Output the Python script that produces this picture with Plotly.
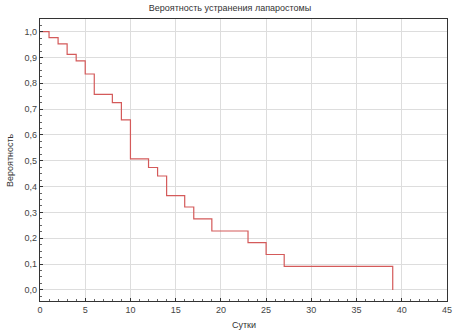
import plotly.graph_objects as go

# Kaplan-Meier estimate: day of event and survival probability after it
days = [0, 1, 2, 3, 4, 5, 6, 8, 9, 10, 12, 13, 14, 16, 17, 19, 23, 25, 27, 39]
survival = [1.0, 0.977, 0.953, 0.912, 0.887, 0.836, 0.757, 0.725, 0.658, 0.507,
            0.474, 0.441, 0.365, 0.321, 0.275, 0.228, 0.183, 0.137, 0.091, 0.0]
x_ticks = [0, 5, 10, 15, 20, 25, 30, 35, 40, 45]
y_ticks = [0.0, 0.1, 0.2, 0.3, 0.4, 0.5, 0.6, 0.7, 0.8, 0.9, 1.0]
y_tick_labels = [f"{v:.1f}".replace(".", ",") for v in y_ticks]

fig = go.Figure()
fig.add_trace(go.Scatter(
    x=days, y=survival, mode="lines", line=dict(shape="hv", color="#d45a5a", width=1.2),
    showlegend=False, hoverinfo="skip"))

font = dict(family="Liberation Sans, Arial, sans-serif", size=9, color="#444444")
fig.update_layout(
    width=460, height=335,
    margin=dict(l=40, r=13, t=19, b=34, autoexpand=False),
    paper_bgcolor="white", plot_bgcolor="white",
    font=font,
    title=dict(text="Вероятность устранения лапаростомы", x=0.5, xanchor="center",
               y=0.985, yanchor="top", font=dict(size=9, color="#333333")),
    xaxis=dict(range=[0, 45], tickvals=x_ticks, ticktext=[str(v) for v in x_ticks],
               automargin=False,
               showgrid=True, gridcolor="#dddddd", gridwidth=1, zeroline=False,
               showline=True, linecolor="#333333", linewidth=1.2, mirror=True,
               ticks="inside", ticklen=3, tickcolor="#333333",
               minor=dict(dtick=1, ticks="inside", ticklen=2, tickcolor="#666666", showgrid=False)),
    yaxis=dict(range=[-0.043, 1.049], tickvals=y_ticks, ticktext=y_tick_labels,
               automargin=False,
               showgrid=True, gridcolor="#dddddd", gridwidth=1, zeroline=False,
               showline=True, linecolor="#333333", linewidth=1.2, mirror=True,
               ticks="inside", ticklen=3, tickcolor="#333333",
               minor=dict(dtick=0.025, ticks="inside", ticklen=2, tickcolor="#666666", showgrid=False)),
    annotations=[
        dict(text="Сутки", xref="paper", yref="paper", x=0.5, y=0, yshift=-24,
             xanchor="center", yanchor="middle", showarrow=False,
             font=dict(size=9, color="#333333")),
        dict(text="Вероятность", xref="paper", yref="paper", x=0, y=0.5, xshift=-30,
             xanchor="center", yanchor="middle", textangle=-90, showarrow=False,
             font=dict(size=9, color="#333333")),
    ],
)
fig.write_html("out.html", config={"displayModeBar": False, "staticPlot": True},
               post_script="document.body.style.margin='0';document.body.style.padding='0';")
